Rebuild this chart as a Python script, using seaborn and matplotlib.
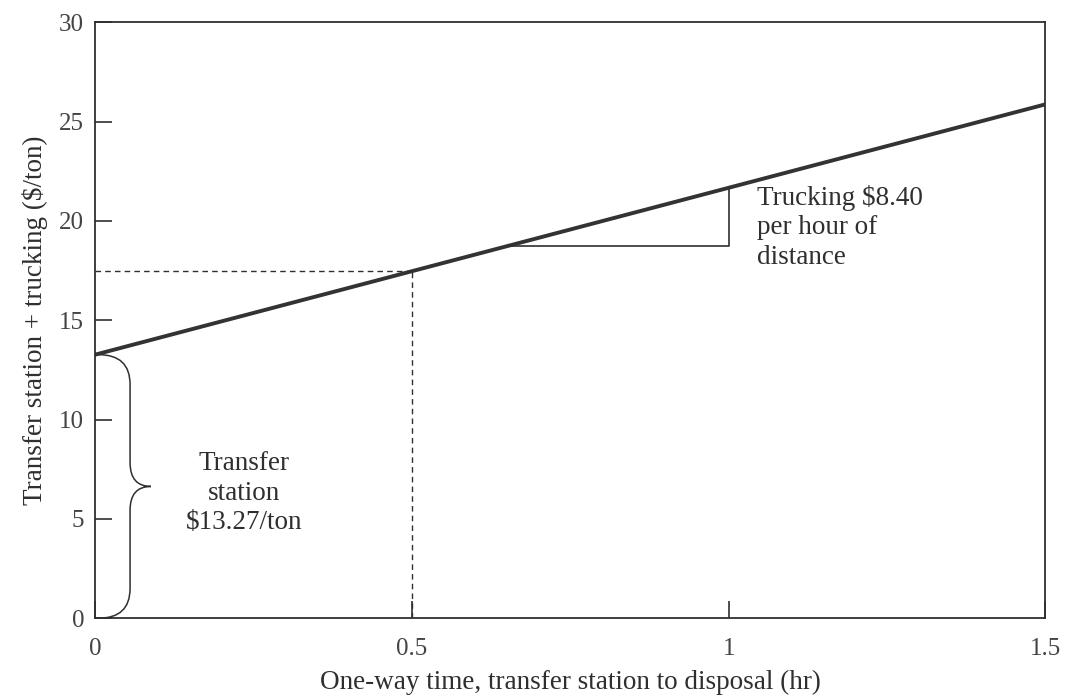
import numpy as np
import pandas as pd
import matplotlib
matplotlib.use("Agg")
import matplotlib.pyplot as plt
import seaborn as sns
from matplotlib.path import Path
from matplotlib.patches import PathPatch

# ---- data ----
time_hr = [0.0, 0.5, 1.0, 1.5]
cost_per_ton = [13.27, 17.47, 21.67, 25.87]
transfer_station_cost = 13.27
trucking_rate = 8.40
marked_time = 0.5
slope_tri_x = [0.65, 1.0]
x_ticks = [0, 0.5, 1, 1.5]
x_ticklabels = ["0", "0.5", "1", "1.5"]
y_ticks = [0, 5, 10, 15, 20, 25, 30]
y_ticklabels = ["0", "5", "10", "15", "20", "25", "30"]

sns.set_theme(style="white")
plt.rcParams["font.family"] = ["Liberation Serif", "DejaVu Serif"]
ink = "#2f2f2f"
plt.rcParams["text.color"] = ink

fig = plt.figure(figsize=(10.7, 6.97), dpi=100)
ax = fig.add_axes([0.089, 0.113, 0.888, 0.855])

df = pd.DataFrame({"time": time_hr, "cost": cost_per_ton})
sns.lineplot(data=df, x="time", y="cost", ax=ax, color="#333333", linewidth=2.8)

def cost_at(t):
    return transfer_station_cost + trucking_rate * t

# dashed guide lines
yc = cost_at(marked_time)
ax.plot([marked_time, marked_time], [0, yc], ls=(0, (4, 3)), color=ink, lw=1.0)
ax.plot([0, marked_time], [yc, yc], ls=(0, (4, 3)), color=ink, lw=1.0)

# slope triangle
x0, x1 = slope_tri_x
ax.plot([x0, x1, x1], [cost_at(x0), cost_at(x0), cost_at(x1)], color=ink, lw=1.2)

# brace for transfer station cost
top = transfer_station_cost
mid = top / 2
bx, tx = 0.055, 0.088
verts = [(0.005, 0), (bx, 0), (bx, 1.5), (bx, mid - 1.2),
         (bx, mid), (tx, mid), (bx, mid), (bx, mid + 1.2),
         (bx, top - 1.5), (bx, top), (0.005, top)]
codes = [Path.MOVETO, Path.CURVE3, Path.CURVE3, Path.LINETO,
         Path.CURVE3, Path.CURVE3, Path.CURVE3, Path.CURVE3,
         Path.LINETO, Path.CURVE3, Path.CURVE3]
ax.add_patch(PathPatch(Path(verts, codes), fill=False, edgecolor=ink, lw=1.1))

ax.text(0.235, 6.3, "Transfer\nstation\n$13.27/ton", ha="center", va="center",
        fontsize=19.5, linespacing=1.22)
ax.text(1.045, 21.8, "Trucking $8.40\nper hour of\ndistance", ha="left", va="top",
        fontsize=19.5, linespacing=1.22)

ax.set_xlim(0, 1.5)
ax.set_ylim(0, 30)
ax.set_xticks(x_ticks)
ax.set_xticklabels(x_ticklabels)
ax.set_yticks(y_ticks)
ax.set_yticklabels(y_ticklabels)
ax.tick_params(axis="both", which="major", bottom=True, left=True, top=False, right=False,
               direction="in", length=12, width=1.2, colors=ink,
               labelsize=18, labelcolor="#444444")
ax.tick_params(axis="x", pad=14)
ax.tick_params(axis="y", pad=8)
for s in ax.spines.values():
    s.set_color(ink)
    s.set_linewidth(1.3)

ax.set_xlabel("One-way time, transfer station to disposal (hr)", fontsize=19.5, labelpad=7, color=ink)
ax.set_ylabel("Transfer station + trucking ($/ton)", fontsize=19.5, labelpad=8, color=ink)

fig.savefig("out.png", dpi=100)
